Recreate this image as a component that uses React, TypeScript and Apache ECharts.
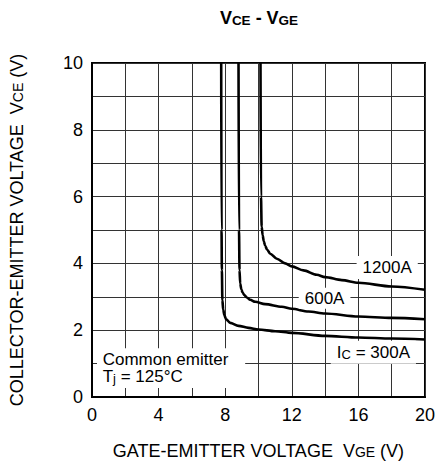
import React, { useEffect, useRef } from "react";
import * as echarts from "echarts";

// Axis ranges / ticks
const xMin = 0;
const xMax = 20;
const xGridStep = 2;
const xLabelStep = 4;
const yMin = 0;
const yMax = 10;
const yGridStep = 1;
const yLabelStep = 2;

// Curves: [VGE, VCE]
const ic300: [number, number][] = [
  [7.76, 10], [7.78, 5.0], [7.8, 3.8], [7.83, 2.9], [7.88, 2.62], [7.95, 2.45],
  [8.05, 2.33], [8.3, 2.22], [8.8, 2.13], [9.4, 2.07], [10, 2.02], [11, 1.97],
  [12, 1.92], [14, 1.83], [16, 1.78], [18, 1.75], [20, 1.72],
];
const ic600: [number, number][] = [
  [8.8, 10], [8.83, 5.0], [8.86, 3.8], [8.9, 3.4], [8.97, 3.22], [9.04, 3.13],
  [9.15, 3.05], [9.3, 2.98], [9.5, 2.91], [9.8, 2.85], [10.4, 2.78], [11.4, 2.7],
  [12, 2.64], [13, 2.56], [14, 2.5], [16, 2.41], [18, 2.37], [20, 2.33],
];
const ic1200: [number, number][] = [
  [10.12, 10], [10.15, 6.0], [10.19, 5.1], [10.25, 4.84], [10.32, 4.66], [10.4, 4.53],
  [10.52, 4.41], [10.7, 4.29], [11.1, 4.14], [11.6, 4.0], [12, 3.91], [12.7, 3.79],
  [13.5, 3.66], [14, 3.59], [15, 3.5], [16, 3.42], [18, 3.31], [20, 3.21],
];

// Annotations (data coordinates of text anchor)
const seriesNames = ["IC = 300A", "600A", "1200A"];
const lbl1200: [number, number] = [17.73, 3.88];
const lbl600: [number, number] = [13.97, 2.96];
const lbl300: [number, number] = [16.9, 1.34];
const lblCommon1: [number, number] = [0.64, 1.13];
const lblCommon2: [number, number] = [0.64, 0.6];
const commonBox: [number, number, number, number] = [0.3, 1.46, 9.2, 0.27];

const FONT = "'Liberation Sans', Arial, Helvetica, sans-serif";

export default function App() {
  const ref = useRef<HTMLDivElement>(null);
  useEffect(() => {
    document.body.style.margin = "0";
    const chart = echarts.init(ref.current!, null, { renderer: "svg" });
    const lineStyle = { color: "#000", width: 2.6 };
    const mk = (name: string, data: [number, number][]) => ({
      name,
      type: "line",
      data,
      showSymbol: false,
      symbol: "none",
      smooth: 0.3,
      smoothMonotone: "x",
      lineStyle,
      z: 5,
    });
    const subRich = { s: { fontSize: 14, color: "#000", fontFamily: FONT, verticalAlign: "bottom", padding: [0, 0, 1, 0] } };
    chart.setOption({
      animation: false,
      backgroundColor: "#fff",
      textStyle: { fontFamily: FONT },
      grid: {
        left: 91,
        right: 12,
        top: 63,
        bottom: 70,
        show: true,
        borderColor: "#000",
        borderWidth: 2,
        backgroundColor: "transparent",
      },
      xAxis: {
        type: "value",
        min: xMin,
        max: xMax,
        interval: xGridStep,
        axisLine: { show: true, lineStyle: { color: "#000", width: 2 } },
        axisTick: { show: false },
        splitLine: { show: true, lineStyle: { color: "#333", width: 1 } },
        axisLabel: {
          color: "#000",
          fontSize: 18,
          fontFamily: FONT,
          margin: 9,
          formatter: (v: number) => (v % xLabelStep === 0 ? String(v) : ""),
        },
        name: "GATE-EMITTER VOLTAGE  V{s|GE} (V)",
        nameLocation: "middle",
        nameGap: 45,
        nameTextStyle: { color: "#000", fontSize: 18, fontFamily: FONT, rich: subRich },
      },
      yAxis: {
        type: "value",
        min: yMin,
        max: yMax,
        interval: yGridStep,
        axisLine: { show: true, lineStyle: { color: "#000", width: 2 } },
        axisTick: { show: false },
        splitLine: { show: true, lineStyle: { color: "#333", width: 1 } },
        axisLabel: {
          color: "#000",
          fontSize: 18,
          fontFamily: FONT,
          margin: 9,
          formatter: (v: number) => (v % yLabelStep === 0 ? String(v) : ""),
        },
        name: "COLLECTOR-EMITTER VOLTAGE  V{s|CE} (V)",
        nameLocation: "middle",
        nameGap: 66,
        nameTextStyle: { color: "#000", fontSize: 18, fontFamily: FONT, rich: subRich },
      },
      series: [mk(seriesNames[0], ic300), mk(seriesNames[1], ic600), mk(seriesNames[2], ic1200)],
    });

    const px = (p: [number, number]) => chart.convertToPixel({ gridIndex: 0 }, p) as number[];
    const p1200 = px(lbl1200);
    const p600 = px(lbl600);
    const p300 = px(lbl300);
    const pC1 = px(lblCommon1);
    const pC2 = px(lblCommon2);
    const bTL = px([commonBox[0], commonBox[1]]);
    const bBR = px([commonBox[2], commonBox[3]]);
    const base = { fill: "#000", fontSize: 17, fontFamily: FONT };
    const sub = { fill: "#000", fontSize: 13, fontFamily: FONT, verticalAlign: "bottom" };
    chart.setOption({
      graphic: [
        {
          type: "text",
          x: 259,
          y: 18,
          z: 100,
          style: {
            text: "{b|V}{s|CE}{b| - V}{s|GE}",
            align: "center",
            verticalAlign: "middle",
            rich: {
              b: { fill: "#000", fontSize: 18, fontWeight: "bold", fontFamily: FONT },
              s: { fill: "#000", fontSize: 13.5, fontWeight: "bold", fontFamily: FONT, verticalAlign: "bottom" },
            },
          },
        },
        {
          type: "text",
          x: p1200[0],
          y: p1200[1],
          z: 100,
          style: {
            ...base,
            text: seriesNames[2],
            align: "center",
            verticalAlign: "middle",
            backgroundColor: "#fff",
            padding: [3, 6, 3, 6],
          },
        },
        {
          type: "text",
          x: p600[0],
          y: p600[1],
          z: 100,
          style: {
            ...base,
            text: seriesNames[1],
            align: "center",
            verticalAlign: "middle",
            backgroundColor: "#fff",
            padding: [2, 6, 2, 6],
          },
        },
        {
          type: "text",
          x: p300[0],
          y: p300[1],
          z: 100,
          style: {
            text: "{a|I}{s|C}{a| = 300A}",
            align: "center",
            verticalAlign: "middle",
            backgroundColor: "#fff",
            padding: [3, 6, 3, 6],
            rich: { a: base, s: sub },
          },
        },
        {
          type: "rect",
          z: 99,
          shape: { x: bTL[0], y: bTL[1], width: bBR[0] - bTL[0], height: bBR[1] - bTL[1] },
          style: { fill: "#fff" },
        },
        {
          type: "text",
          x: pC1[0],
          y: pC1[1],
          z: 100,
          style: { ...base, text: "Common emitter", align: "left", verticalAlign: "middle" },
        },
        {
          type: "text",
          x: pC2[0],
          y: pC2[1],
          z: 100,
          style: {
            text: "{a|T}{s|j}{a| = 125°C}",
            align: "left",
            verticalAlign: "middle",
            rich: { a: base, s: sub },
          },
        },
      ],
    });
    return () => chart.dispose();
  }, []);
  return <div ref={ref} style={{ width: 438, height: 467 }} />;
}
